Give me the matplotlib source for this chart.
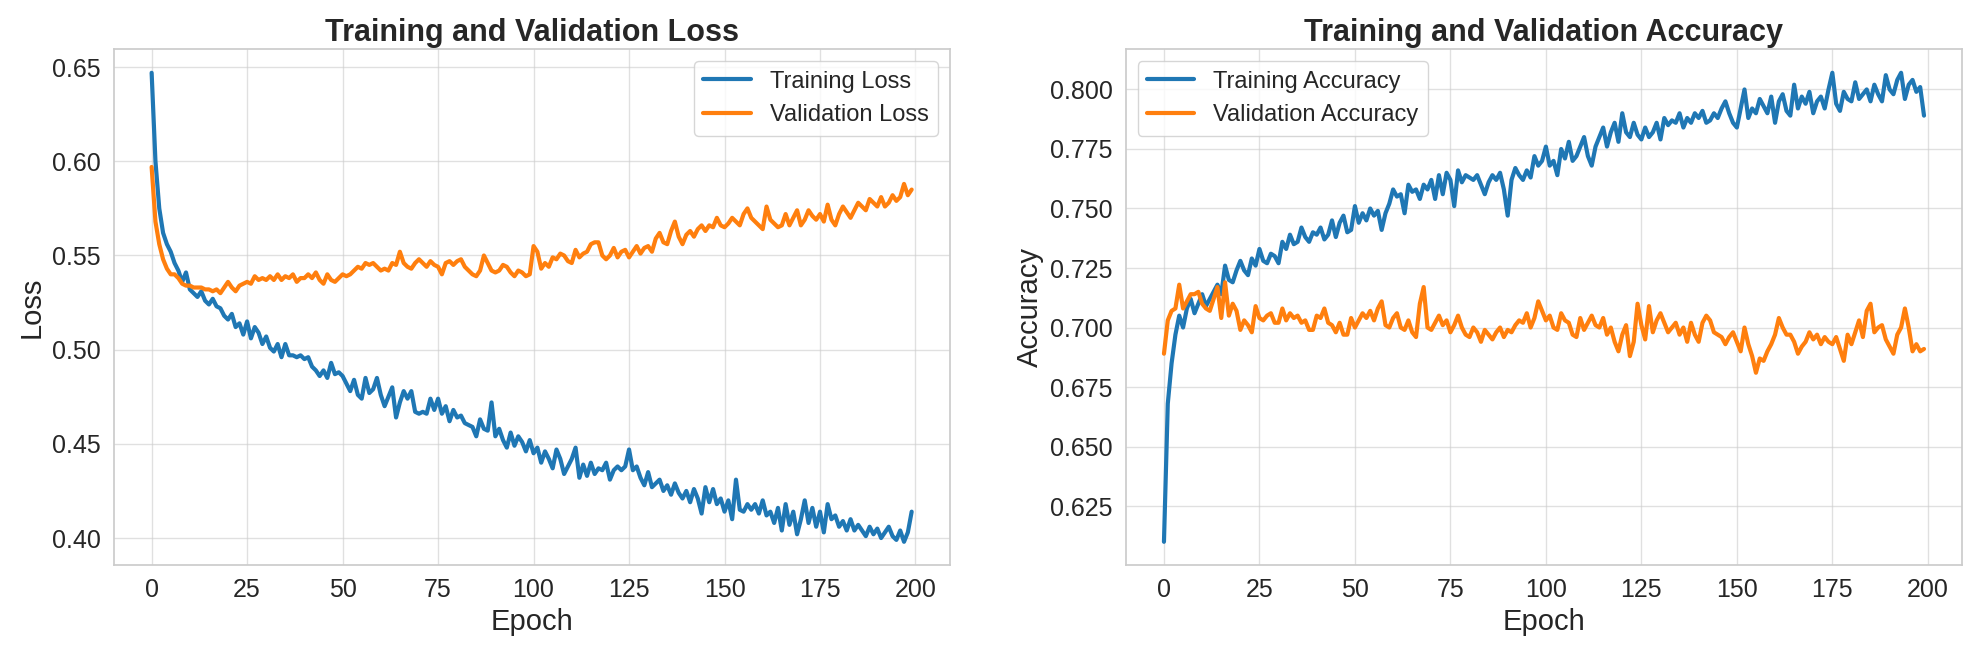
import matplotlib
matplotlib.use("Agg")
import matplotlib.pyplot as plt
import seaborn as sns

train_loss = [
0.647,0.600,0.575,0.562,0.556,0.552,0.546,0.542,0.536,0.541,
0.532,0.530,0.528,0.531,0.526,0.524,0.527,0.523,0.522,0.518,
0.516,0.519,0.512,0.514,0.508,0.515,0.506,0.512,0.509,0.503,
0.507,0.501,0.499,0.503,0.496,0.503,0.497,0.497,0.496,0.497,
0.495,0.496,0.491,0.489,0.486,0.489,0.485,0.493,0.487,0.488,
0.486,0.482,0.478,0.484,0.476,0.474,0.485,0.477,0.479,0.485,
0.476,0.470,0.475,0.480,0.464,0.472,0.478,0.474,0.478,0.467,
0.466,0.467,0.466,0.474,0.468,0.474,0.466,0.470,0.462,0.468,
0.464,0.465,0.461,0.460,0.459,0.454,0.463,0.458,0.457,0.472,
0.454,0.458,0.452,0.448,0.456,0.449,0.454,0.451,0.446,0.452,
0.445,0.448,0.440,0.446,0.442,0.437,0.447,0.442,0.434,0.438,
0.442,0.448,0.432,0.439,0.433,0.440,0.434,0.437,0.436,0.440,
0.431,0.436,0.438,0.436,0.438,0.447,0.436,0.438,0.432,0.428,
0.435,0.427,0.429,0.431,0.425,0.428,0.423,0.429,0.424,0.421,
0.425,0.419,0.426,0.421,0.413,0.427,0.419,0.426,0.418,0.421,
0.414,0.420,0.410,0.431,0.415,0.414,0.418,0.415,0.418,0.413,
0.420,0.412,0.414,0.408,0.416,0.404,0.418,0.407,0.414,0.402,
0.410,0.420,0.408,0.416,0.406,0.414,0.403,0.418,0.410,0.412,
0.406,0.409,0.404,0.410,0.404,0.407,0.404,0.401,0.406,0.402,
0.405,0.400,0.403,0.406,0.401,0.399,0.404,0.398,0.403,0.414]

val_loss = [
0.597,0.568,0.556,0.548,0.543,0.540,0.540,0.538,0.535,0.534,
0.534,0.533,0.533,0.533,0.532,0.532,0.531,0.532,0.530,0.533,
0.536,0.533,0.531,0.534,0.535,0.536,0.535,0.539,0.537,0.538,
0.537,0.539,0.537,0.540,0.537,0.539,0.538,0.540,0.536,0.538,
0.538,0.540,0.538,0.541,0.537,0.535,0.540,0.537,0.536,0.538,
0.540,0.539,0.540,0.542,0.544,0.543,0.546,0.545,0.546,0.544,
0.542,0.543,0.542,0.546,0.545,0.552,0.546,0.544,0.543,0.546,
0.548,0.546,0.544,0.547,0.545,0.544,0.540,0.546,0.547,0.545,
0.547,0.548,0.544,0.542,0.540,0.539,0.542,0.550,0.546,0.542,
0.541,0.542,0.545,0.544,0.541,0.539,0.542,0.541,0.539,0.540,
0.555,0.552,0.543,0.546,0.544,0.549,0.548,0.551,0.550,0.547,
0.546,0.553,0.549,0.551,0.552,0.556,0.557,0.557,0.550,0.548,
0.550,0.554,0.549,0.552,0.553,0.549,0.552,0.555,0.551,0.554,
0.555,0.552,0.559,0.562,0.557,0.556,0.563,0.568,0.560,0.556,
0.561,0.563,0.560,0.564,0.566,0.563,0.566,0.565,0.570,0.566,
0.565,0.567,0.570,0.568,0.566,0.572,0.575,0.570,0.568,0.566,
0.564,0.576,0.569,0.567,0.565,0.566,0.572,0.566,0.570,0.574,
0.566,0.569,0.574,0.571,0.569,0.572,0.568,0.577,0.569,0.566,
0.572,0.576,0.573,0.570,0.574,0.578,0.576,0.574,0.580,0.578,
0.576,0.581,0.576,0.578,0.582,0.579,0.581,0.588,0.582,0.585]

train_acc = [
0.610,0.668,0.685,0.697,0.705,0.700,0.708,0.712,0.706,0.710,
0.714,0.709,0.712,0.715,0.718,0.714,0.726,0.720,0.719,0.724,
0.728,0.724,0.722,0.729,0.726,0.733,0.728,0.727,0.731,0.730,
0.727,0.736,0.733,0.739,0.735,0.736,0.742,0.738,0.736,0.740,
0.739,0.742,0.737,0.739,0.745,0.738,0.744,0.747,0.740,0.741,
0.751,0.744,0.748,0.745,0.750,0.747,0.749,0.741,0.748,0.752,
0.758,0.755,0.756,0.748,0.760,0.757,0.758,0.754,0.760,0.758,
0.762,0.754,0.764,0.756,0.765,0.762,0.751,0.766,0.761,0.764,
0.763,0.762,0.764,0.760,0.756,0.761,0.764,0.762,0.765,0.758,
0.747,0.762,0.767,0.764,0.762,0.766,0.763,0.772,0.768,0.770,
0.776,0.768,0.770,0.764,0.775,0.771,0.778,0.770,0.772,0.776,
0.780,0.772,0.768,0.776,0.780,0.784,0.776,0.782,0.786,0.778,
0.790,0.782,0.780,0.786,0.781,0.779,0.784,0.780,0.782,0.786,
0.779,0.788,0.785,0.787,0.786,0.790,0.784,0.788,0.786,0.790,
0.788,0.791,0.786,0.787,0.790,0.788,0.792,0.795,0.790,0.786,
0.784,0.792,0.800,0.788,0.792,0.790,0.796,0.793,0.790,0.797,
0.786,0.795,0.798,0.791,0.789,0.802,0.792,0.797,0.794,0.799,
0.790,0.795,0.797,0.792,0.800,0.807,0.794,0.791,0.799,0.796,
0.795,0.803,0.796,0.798,0.800,0.795,0.802,0.798,0.795,0.806,
0.800,0.798,0.804,0.807,0.796,0.802,0.804,0.799,0.801,0.789]

val_acc = [
0.689,0.703,0.707,0.708,0.718,0.708,0.711,0.714,0.714,0.715,
0.710,0.708,0.707,0.712,0.717,0.704,0.719,0.705,0.710,0.707,
0.699,0.703,0.701,0.698,0.709,0.704,0.703,0.705,0.706,0.702,
0.702,0.708,0.703,0.706,0.704,0.705,0.702,0.703,0.699,0.699,
0.705,0.704,0.708,0.702,0.701,0.698,0.702,0.697,0.697,0.704,
0.700,0.703,0.706,0.704,0.707,0.703,0.708,0.711,0.701,0.700,
0.704,0.706,0.700,0.699,0.703,0.698,0.696,0.710,0.717,0.700,
0.699,0.702,0.705,0.701,0.703,0.698,0.701,0.705,0.700,0.697,
0.696,0.700,0.698,0.694,0.699,0.697,0.695,0.698,0.700,0.696,
0.699,0.698,0.701,0.703,0.702,0.706,0.700,0.704,0.711,0.707,
0.703,0.705,0.700,0.699,0.706,0.703,0.702,0.697,0.696,0.704,
0.699,0.702,0.705,0.701,0.700,0.704,0.697,0.700,0.694,0.690,
0.697,0.701,0.688,0.694,0.710,0.701,0.695,0.709,0.698,0.703,
0.706,0.702,0.698,0.700,0.702,0.697,0.700,0.694,0.702,0.697,
0.694,0.702,0.705,0.703,0.698,0.697,0.696,0.693,0.696,0.698,
0.694,0.690,0.700,0.693,0.688,0.681,0.687,0.686,0.690,0.693,
0.697,0.704,0.700,0.697,0.697,0.694,0.689,0.692,0.694,0.698,
0.695,0.697,0.693,0.696,0.694,0.693,0.696,0.691,0.686,0.697,
0.693,0.698,0.703,0.696,0.707,0.710,0.698,0.700,0.701,0.695,
0.692,0.689,0.697,0.700,0.708,0.700,0.690,0.693,0.690,0.691]

epochs = list(range(len(train_loss)))

sns.set_theme(style="whitegrid")
plt.rcParams['font.family'] = ['Liberation Sans', 'DejaVu Sans']

fig, (ax1, ax2) = plt.subplots(1, 2, figsize=(19.8, 6.54), dpi=100)
blue, orange = '#1f77b4', '#ff7f0e'

ax1.plot(epochs, train_loss, color=blue, lw=3, label='Training Loss')
ax1.plot(epochs, val_loss, color=orange, lw=3, label='Validation Loss')
ax1.set_title('Training and Validation Loss', fontsize=22, fontweight='bold')
ax1.set_xlabel('Epoch', fontsize=21)
ax1.set_ylabel('Loss', fontsize=21)
ax1.legend(fontsize=17, loc='upper right')

ax2.plot(epochs, train_acc, color=blue, lw=3, label='Training Accuracy')
ax2.plot(epochs, val_acc, color=orange, lw=3, label='Validation Accuracy')
ax2.set_title('Training and Validation Accuracy', fontsize=22, fontweight='bold')
ax2.set_xlabel('Epoch', fontsize=21)
ax2.set_ylabel('Accuracy', fontsize=21)
ax2.legend(fontsize=17, loc='upper left')

for ax in (ax1, ax2):
    ax.tick_params(labelsize=18)
    for s in ax.spines.values():
        s.set_color('#cccccc')
    ax.grid(True, alpha=0.6)

fig.tight_layout(w_pad=4)
fig.savefig('out.png')
